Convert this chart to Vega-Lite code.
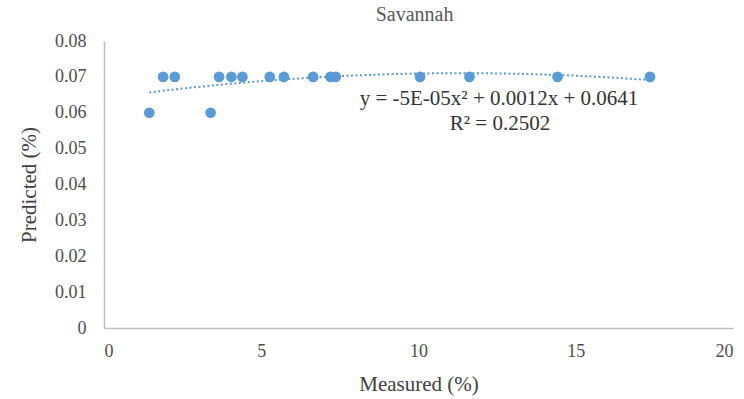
{
  "$schema": "https://vega.github.io/schema/vega-lite/v6.json",
  "autosize": {"type": "none"},
  "width": 629,
  "height": 287,
  "padding": {"left": 104, "top": 41, "right": 11, "bottom": 71},
  "background": "white",
  "title": {"text": "Savannah", "font": "Liberation Serif", "fontSize": 20, "fontWeight": "normal", "color": "#595959", "offset": 7, "dx": -4},
  "config": {"view": {"stroke": null}},
  "datasets": {
    "pts": [
      {"measured": 1.44, "predicted": 0.06},
      {"measured": 1.88, "predicted": 0.07},
      {"measured": 2.25, "predicted": 0.07},
      {"measured": 3.39, "predicted": 0.06},
      {"measured": 3.66, "predicted": 0.07},
      {"measured": 4.05, "predicted": 0.07},
      {"measured": 4.40, "predicted": 0.07},
      {"measured": 5.27, "predicted": 0.07},
      {"measured": 5.72, "predicted": 0.07},
      {"measured": 6.65, "predicted": 0.07},
      {"measured": 7.20, "predicted": 0.07},
      {"measured": 7.37, "predicted": 0.07},
      {"measured": 10.05, "predicted": 0.07},
      {"measured": 11.62, "predicted": 0.07},
      {"measured": 14.42, "predicted": 0.07},
      {"measured": 17.36, "predicted": 0.07}
    ],
    "labels": [
      {"measured": 12.56, "predicted": 0.0638, "text": "y = -5E-05x² + 0.0012x + 0.0641"},
      {"measured": 12.59, "predicted": 0.0570, "text": "R² = 0.2502"}
    ]
  },
  "encoding": {
    "x": {
      "field": "measured", "type": "quantitative",
      "scale": {"domain": [0, 20], "nice": false},
      "axis": {"values": [0, 5, 10, 15, 20], "title": "Measured (%)", "grid": false, "ticks": false, "labelOverlap": false,
        "domainColor": "#bfbfbf", "domainWidth": 1.5, "labelFont": "Liberation Serif", "labelFontSize": 18,
        "labelColor": "#4d4d4d", "labelPadding": 14, "titleFont": "Liberation Serif", "titleFontSize": 21,
        "titleFontWeight": "normal", "titleColor": "#404040", "titlePadding": 13}
    },
    "y": {
      "field": "predicted", "type": "quantitative",
      "scale": {"domain": [0, 0.08], "nice": false},
      "axis": {"values": [0, 0.01, 0.02, 0.03, 0.04, 0.05, 0.06, 0.07, 0.08], "format": ".2~f", "title": "Predicted (%)", "grid": false, "ticks": false, "labelOverlap": false,
        "domainColor": "#bfbfbf", "domainWidth": 1.5, "labelFont": "Liberation Serif", "labelFontSize": 18,
        "labelColor": "#4d4d4d", "labelPadding": 18, "titleFont": "Liberation Serif", "titleFontSize": 21,
        "titleFontWeight": "normal", "titleColor": "#404040", "titlePadding": 15}
    }
  },
  "layer": [
    {
      "data": {"name": "pts"},
      "transform": [{"regression": "predicted", "on": "measured", "method": "poly", "order": 2}],
      "mark": {"type": "line", "color": "#5B9BD5", "strokeWidth": 2, "strokeDash": [2, 2.5]}
    },
    {
      "data": {"name": "pts"},
      "mark": {"type": "circle", "size": 115, "color": "#5B9BD5", "opacity": 1}
    },
    {
      "data": {"name": "labels"},
      "mark": {"type": "text", "font": "Liberation Serif", "fontSize": 21, "color": "#333333", "align": "center", "baseline": "middle"},
      "encoding": {
        "text": {"field": "text"}
      }
    }
  ]
}
